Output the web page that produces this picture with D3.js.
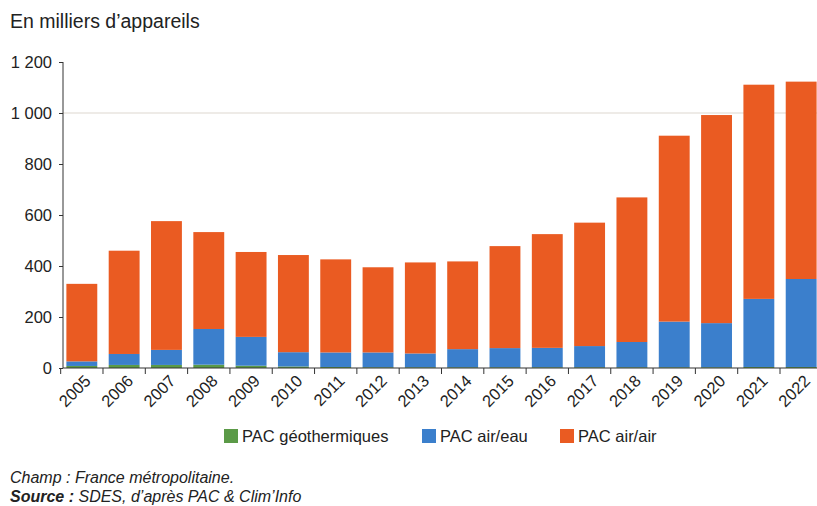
<!DOCTYPE html>
<html>
<head>
<meta charset="utf-8">
<script src="https://cdn.jsdelivr.net/npm/d3@7"></script>
<style>
  body { margin: 0; background: #fff; }
  svg { font-family: "Liberation Sans", Arial, sans-serif; }
</style>
</head>
<body>
<svg width="817" height="506"></svg>
<script>
var years = ["2005","2006","2007","2008","2009","2010","2011","2012","2013","2014","2015","2016","2017","2018","2019","2020","2021","2022"];
// milliers d'appareils
var geo    = [8, 12, 12, 13, 9, 6, 4, 3, 3, 3, 3, 3, 3, 3, 3, 3, 4, 4];
var airEau = [18, 43, 59, 140, 113, 56, 57, 58, 54, 71, 75, 76, 83, 99, 179, 173, 267, 345];
var airAir = [304, 405, 505, 380, 333, 381, 365, 334, 357, 344, 400, 446, 484, 567, 729, 816, 840, 774];
var yTicks = [0, 200, 400, 600, 800, 1000, 1200];

var keys = ["geo", "airEau", "airAir"];
var labels = ["PAC géothermiques", "PAC air/eau", "PAC air/air"];
var colors = ["#5b9a47", "#3b7fcc", "#ea5b22"];

var svg = d3.select("svg");

var rows = years.map(function(y, i) {
  return { year: y, geo: geo[i], airEau: airEau[i], airAir: airAir[i] };
});

var x = d3.scaleBand().domain(years).range([63, 820]).paddingInner(0.27).paddingOuter(0.08);
var y = d3.scaleLinear().domain([0, 1200]).range([368, 62]);

var fmt = function(d) { return d3.format(",")(d).replace(",", " "); };

// title
svg.append("text")
  .attr("x", 10).attr("y", 28)
  .attr("font-size", 19.5).attr("fill", "#222")
  .text("En milliers d’appareils");

// faint grid line
svg.append("line")
  .attr("x1", 63).attr("x2", 817)
  .attr("y1", y(1000)).attr("y2", y(1000))
  .attr("stroke", "#e8e4df").attr("stroke-width", 1.5);

var stack = d3.stack().keys(keys)(rows);

svg.append("g").selectAll("g")
  .data(stack)
  .enter().append("g")
  .attr("fill", function(d, i) { return colors[i]; })
  .selectAll("rect")
  .data(function(d) { return d; })
  .enter().append("rect")
  .attr("x", function(d) { return x(d.data.year); })
  .attr("width", x.bandwidth())
  .attr("y", function(d) { return y(d[1]); })
  .attr("height", function(d) { return y(d[0]) - y(d[1]); });

// y axis
var yAxis = svg.append("g")
  .attr("transform", "translate(63,0)")
  .call(d3.axisLeft(y).tickValues(yTicks).tickFormat(fmt).tickSize(4).tickPadding(7));
yAxis.selectAll("text").attr("font-size", 16.5).attr("fill", "#222");
yAxis.selectAll("line, path").attr("stroke", "#333");
yAxis.select(".domain").attr("d", "M0," + y(1200) + "V" + y(0));

// x axis baseline and ticks between bars
var xg = svg.append("g");
xg.append("line")
  .attr("x1", 63).attr("x2", 817)
  .attr("y1", y(0)).attr("y2", y(0))
  .attr("stroke", "#333").attr("stroke-width", 1.2);
var step = x.step();
xg.selectAll(".sep")
  .data(years)
  .enter().append("line")
  .attr("x1", function(d) { return x(d) - step * x.paddingInner() / 2; })
  .attr("x2", function(d) { return x(d) - step * x.paddingInner() / 2; })
  .attr("y1", y(0)).attr("y2", y(0) + 6)
  .attr("stroke", "#333");

xg.selectAll(".lbl")
  .data(years)
  .enter().append("text")
  .attr("transform", function(d) {
    return "translate(" + (x(d) + x.bandwidth() / 2 + 10) + "," + (y(0) + 14) + ") rotate(-45)";
  })
  .attr("text-anchor", "end")
  .attr("font-size", 16.5).attr("fill", "#222")
  .text(function(d) { return d; });

// legend
var legX = [224, 422, 560];
var leg = svg.append("g").selectAll("g")
  .data(labels)
  .enter().append("g")
  .attr("transform", function(d, i) { return "translate(" + legX[i] + ",429)"; });
leg.append("rect")
  .attr("width", 14).attr("height", 14)
  .attr("fill", function(d, i) { return colors[i]; });
leg.append("text")
  .attr("x", 18).attr("y", 13)
  .attr("font-size", 16.5).attr("fill", "#222")
  .text(function(d) { return d; });

// notes
svg.append("text")
  .attr("x", 10).attr("y", 483)
  .attr("font-size", 16).attr("font-style", "italic").attr("fill", "#222")
  .text("Champ : France métropolitaine.");
var src = svg.append("text")
  .attr("x", 10).attr("y", 502)
  .attr("font-size", 16).attr("font-style", "italic").attr("fill", "#222");
src.append("tspan").attr("font-weight", "bold").text("Source :");
src.append("tspan").text(" SDES, d’après PAC & Clim’Info");
</script>
</body>
</html>
